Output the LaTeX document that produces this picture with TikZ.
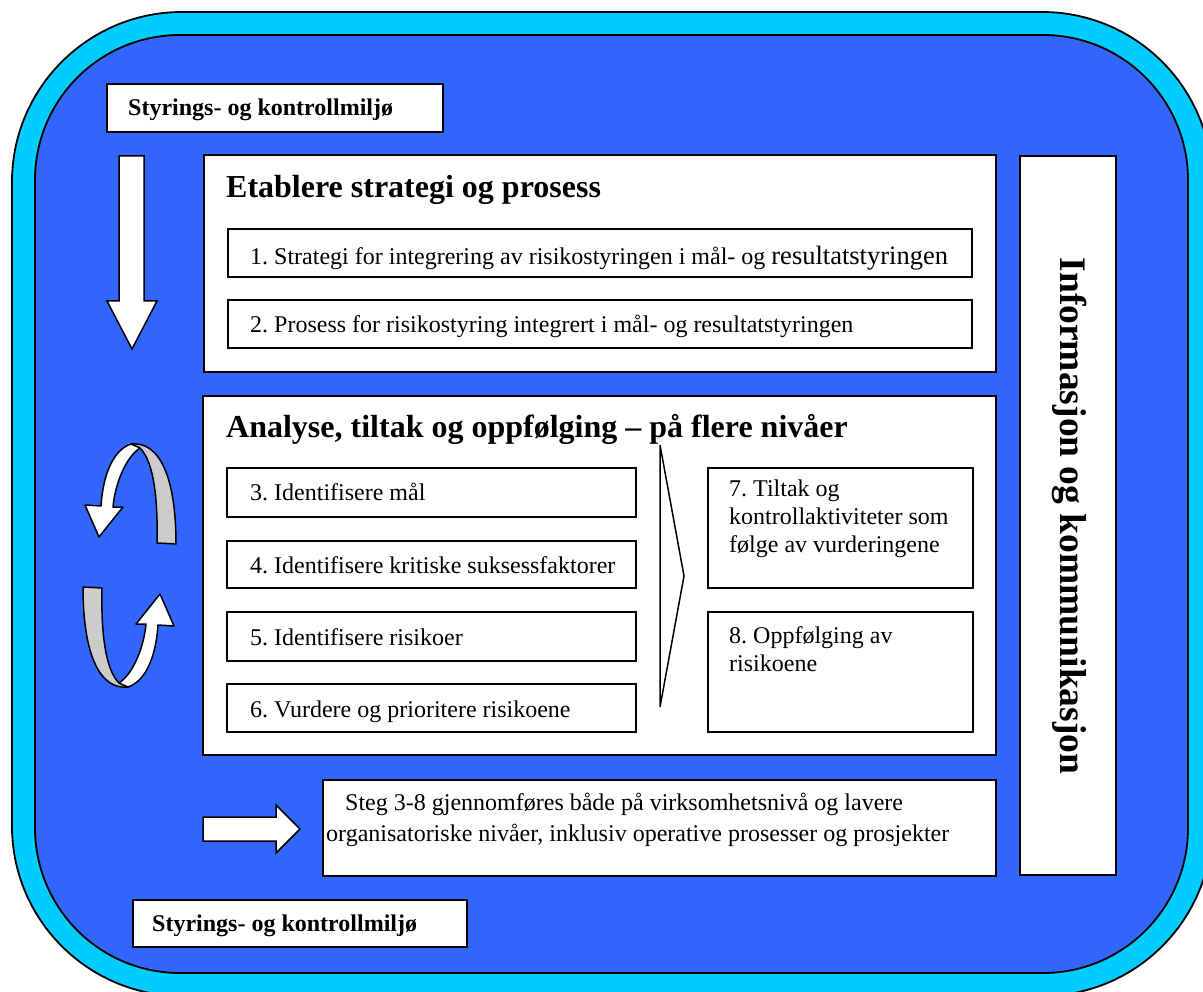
\documentclass[tikz,border=0pt]{standalone}
\usepackage{fontspec}
\setmainfont{Liberation Serif}
\frenchspacing
\definecolor{ringcyan}{HTML}{00CCFF}
\definecolor{fieldblue}{HTML}{3366FF}
\definecolor{ribbongray}{HTML}{CCCCCC}
\tikzset{
  panel/.style={draw=black, line width=1.5pt, fill=white, anchor=north west,
                inner sep=0pt, outer sep=0pt},
  body/.style={font=\fontsize{24}{27.6}\selectfont, anchor=base west, inner sep=0pt},
  heading/.style={font=\bfseries\fontsize{32}{36}\selectfont, anchor=base west, inner sep=0pt},
  ctrllabel/.style={font=\bfseries\fontsize{24}{27.6}\selectfont, anchor=base west, inner sep=0pt},
  blockshape/.style={draw=black, line width=1.5pt, fill=white, line join=miter},
  ribbon/.style={draw=black, line width=1.5pt, fill=ribbongray, line join=round},
}
\begin{document}
\begin{tikzpicture}[x=1pt, y=-1pt]
\clip (0,0) rectangle (1203,992);
% frame: cyan ring and blue field
\filldraw[fill=ringcyan, draw=black, line width=1.8pt, rounded corners=170pt]
  (12,12) rectangle (1212,996);
\filldraw[fill=fieldblue, draw=black, line width=1.8pt, rounded corners=145pt]
  (35,35) rectangle (1188,973);

% governance labels
\node[panel, minimum width=336, minimum height=48] (ctrlTop) at (107,84) {};
\node[ctrllabel] (ctrlTopText) at (128,116) {Styrings- og kontrollmiljø};
\node[panel, minimum width=334, minimum height=47] (ctrlBot) at (133,900) {};
\node[ctrllabel] (ctrlBotText) at (152,931) {Styrings- og kontrollmiljø};

% strategy and process
\node[panel, minimum width=792, minimum height=217] (strategy) at (204,155) {};
\node[heading] (strategyTitle) at (226,198) {Etablere strategi og prosess};
\node[panel, minimum width=744, minimum height=48] (s1) at (228,229) {};
\node[body] (s1text) at (250,265) {1. Strategi for integrering av risikostyringen i mål- og {\fontsize{26.5}{30}\selectfont resultatstyringen}};
\node[panel, minimum width=744, minimum height=48] (s2) at (228,300) {};
\node[body] (s2text) at (250,333) {2. Prosess for risikostyring integrert i mål- og resultatstyringen};

% analysis, measures and follow-up
\node[panel, minimum width=793, minimum height=359] (analysis) at (203,396) {};
\node[heading] (analysisTitle) at (226,438) {Analyse, tiltak og oppfølging – på flere nivåer};
\node[panel, minimum width=409, minimum height=49] (a3) at (227,468) {};
\node[body] (a3text) at (250,500) {3. Identifisere mål};
\node[panel, minimum width=409, minimum height=47] (a4) at (227,541) {};
\node[body] (a4text) at (250,573) {4. Identifisere kritiske suksessfaktorer};
\node[panel, minimum width=409, minimum height=49] (a5) at (227,612) {};
\node[body] (a5text) at (250,645) {5. Identifisere risikoer};
\node[panel, minimum width=409, minimum height=48] (a6) at (227,684) {};
\node[body] (a6text) at (250,717) {6. Vurdere og prioritere risikoene};
\node[panel, minimum width=265, minimum height=120] (a7) at (708,468) {};
\node[body] (a7line1) at (729,496) {7. Tiltak og};
\node[body] (a7line2) at (729,524) {kontrollaktiviteter som};
\node[body] (a7line3) at (729,552) {følge av vurderingene};
\node[panel, minimum width=265, minimum height=120] (a8) at (708,612) {};
\node[body] (a8line1) at (729,643) {8. Oppfølging av};
\node[body] (a8line2) at (729,671) {risikoene};
% chevron from steps 3-6 to 7-8
\draw[blockshape] (660,445) -- (684,576) -- (660,707) -- cycle;

% levels note
\node[panel, minimum width=673, minimum height=96] (levels) at (323,780) {};
\node[body] (levels1) at (345,810) {Steg 3-8 gjennomføres både på virksomhetsnivå og lavere};
\node[body] (levels2) at (326,841) {organisatoriske nivåer, inklusiv operative prosesser og prosjekter};

% information and communication
\node[panel, minimum width=96, minimum height=719] (info) at (1020,156) {};
\node[font=\bfseries\fontsize{37.5}{40}\selectfont, rotate=-90, anchor=base, inner sep=0pt]
  (infoText) at (1060,516) {Informasjon og kommunikasjon};

% block arrows
\draw[blockshape] (119,156) -- (144,156) -- (144,301) -- (157,301) -- (132,349)
  -- (107,301) -- (119,301) -- cycle;
\draw[blockshape] (203,817) -- (276,817) -- (276,805) -- (300,829) -- (276,853)
  -- (276,841) -- (203,841) -- cycle;

% cycle arrows
\begin{scope}
  \draw[ribbon] (131,444) .. controls (160,441) and (176,478) .. (176,544)
    -- (157,543) .. controls (158,500) and (154,462) .. (140,448) -- cycle;
  \draw[ribbon, fill=white] (131,444) .. controls (113,450) and (103,475) .. (101,506)
    -- (85,505) -- (99,537) -- (123,507) -- (113,507)
    .. controls (115,485) and (125,458) .. (140,448) -- cycle;
\end{scope}
\begin{scope}[rotate around={180:(129.5,565.5)}]
  \draw[ribbon] (131,444) .. controls (160,441) and (176,478) .. (176,544)
    -- (157,543) .. controls (158,500) and (154,462) .. (140,448) -- cycle;
  \draw[ribbon, fill=white] (131,444) .. controls (113,450) and (103,475) .. (101,506)
    -- (85,505) -- (99,537) -- (123,507) -- (113,507)
    .. controls (115,485) and (125,458) .. (140,448) -- cycle;
\end{scope}
\end{tikzpicture}
\end{document}
